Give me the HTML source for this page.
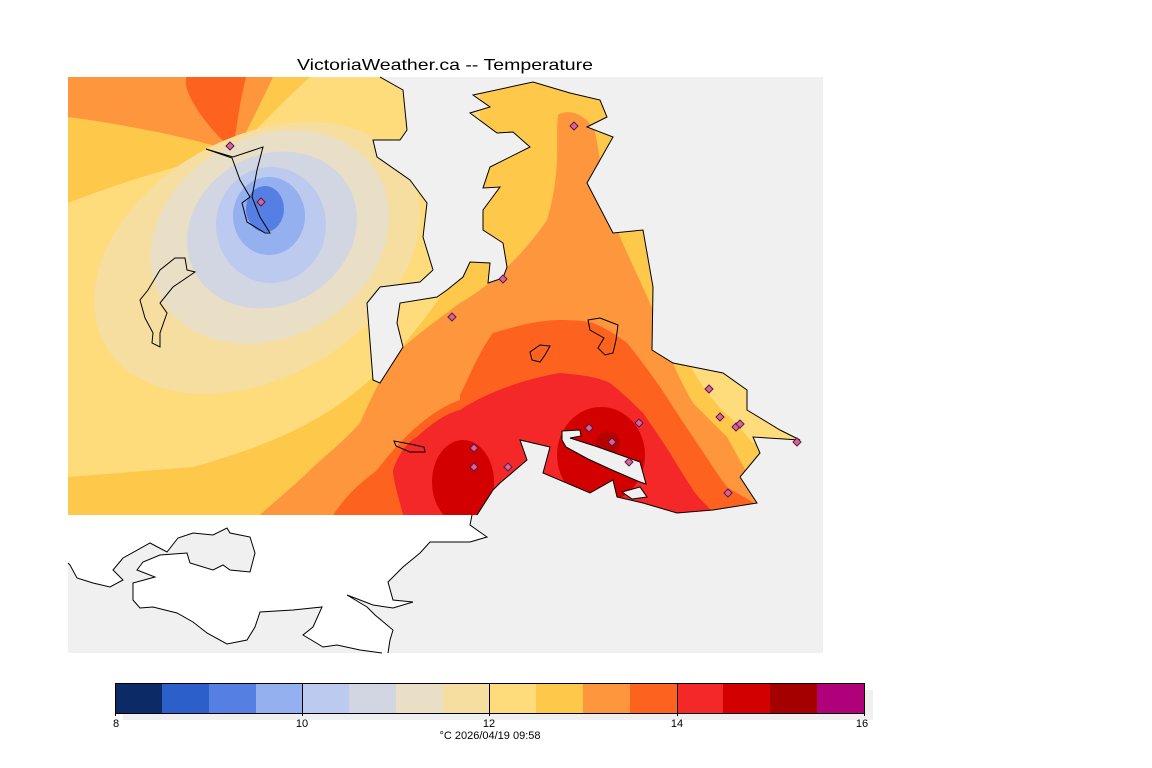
<!DOCTYPE html>
<html><head><meta charset="utf-8"><style>
html,body{margin:0;padding:0;background:#fff;}
svg{display:block;}
</style></head><body>
<svg width="1152" height="768" viewBox="0 0 1152 768" xmlns="http://www.w3.org/2000/svg">
<defs>
<clipPath id="land"><path d="M68,77 L380,77 L403,90 L407,130 L400,140 L373,140 L377,157 L410,180 L427,203 L423,237 L433,270 L420,282 L380,287 L367,303 L373,380 L380,383 L403,347 L397,323 L400,303 L437,297 L447,290 L463,277 L470,262 L490,263 L488,283 L503,278 L507,267 L503,243 L483,230 L483,210 L500,187 L483,188 L490,167 L530,147 L513,132 L497,133 L470,113 L490,107 L473,95 L533,82 L570,93 L600,100 L607,117 L587,127 L613,137 L587,183 L613,233 L643,230 L653,287 L652,350 L673,363 L723,373 L747,390 L747,410 L780,430 L800,440 L753,437 L760,453 L740,477 L757,503 L713,510 L677,513 L643,503 L617,497 L613,480 L590,493 L543,473 L550,447 L520,440 L527,460 L500,483 L493,490 L477,515 L68,515 Z"/></clipPath>
</defs>
<rect x="68" y="77" width="755" height="576" fill="#f0f0f0"/>
<g clip-path="url(#land)">
<rect x="68" y="77" width="755" height="438" fill="#fec84b"/>
<path d="M68,203 C140,175 200,160 235,152 C260,125 290,95 310,77 L480,77 L480,230 C450,290 410,340 380,370 C340,410 290,440 193,467 L68,477 Z" fill="#fedc7c"/>
<path d="M68,77 L273,77 C262,100 248,130 235,152 C200,140 130,125 68,117 Z" fill="#fe963e"/>
<path d="M186,77 L246,77 C240,100 237,125 233,150 C215,135 190,105 186,85 Z" fill="#fe621f"/>
<ellipse cx="257" cy="258" rx="175" ry="120" transform="rotate(-30 257 258)" fill="#f5de9f"/>
<ellipse cx="270" cy="237" rx="125" ry="100" transform="rotate(-30 270 237)" fill="#e9dfc6"/>
<ellipse cx="272" cy="230" rx="88" ry="75" transform="rotate(-30 272 230)" fill="#d1d6e2"/>
<ellipse cx="271" cy="225" rx="55" ry="58" fill="#bccaef"/>
<ellipse cx="269" cy="216" rx="36" ry="39" fill="#94b0ef"/>
<ellipse cx="265" cy="209" rx="19" ry="23" fill="#567fe3"/>
<path d="M558,115 C555,140 562,170 547,220 C530,245 500,280 460,303 C430,325 410,340 393,357 C380,380 370,400 360,423 C340,445 320,460 310,470 C290,490 270,505 260,515 L757,515 L757,490 C745,470 740,460 727,437 C710,420 700,410 693,403 C680,380 676,370 673,363 C660,330 655,320 653,310 C640,280 630,260 620,237 C610,200 605,180 600,160 C597,140 595,130 593,127 C580,110 565,110 558,115 Z" fill="#fe963e"/>
<path d="M690,365 C700,385 720,410 730,417 C745,433 750,440 753,443 L800,445 L780,360 Z" fill="#fedc7c"/>
<path d="M333,515 C350,490 365,480 377,470 C400,440 430,410 460,400 L460,395 C470,375 480,350 493,333 C520,325 540,320 560,320 C580,320 590,322 593,323 C610,330 620,338 627,343 C645,365 655,380 660,387 C675,410 685,425 693,437 C705,455 718,475 727,487 C740,495 750,500 757,505 L757,515 Z" fill="#fe621f"/>
<path d="M403,515 C398,495 393,480 393,470 C400,450 410,440 417,437 C435,420 450,412 460,410 C490,390 530,378 560,373 C585,375 600,378 610,383 C625,395 635,405 643,413 C655,430 665,445 670,453 C680,470 690,485 693,490 C700,500 710,508 713,513 L713,515 Z" fill="#f42828"/>
<ellipse cx="463" cy="482" rx="31" ry="42" fill="#d30000"/>
<ellipse cx="601" cy="455" rx="44" ry="48" fill="#d30000"/>
<circle cx="608" cy="443" r="12" fill="#a50000" opacity="0.6"/>
</g>
<path d="M562,431 L580,430 L581,436 L570,438 L598,447 L640,462 L646,484 L640,482 L612,470 L588,459 L566,447 L562,440 Z" fill="#f0f0f0" stroke="#000" stroke-width="1"/>
<path d="M622,492 L640,487 L647,497 L632,499 Z" fill="#f0f0f0" stroke="#000" stroke-width="1"/>
<path d="M380,77 L403,90 L407,130 L400,140 L373,140 L377,157 L410,180 L427,203 L423,237 L433,270 L420,282 L380,287 L367,303 L373,380 L380,383 L403,347 L397,323 L400,303 L437,297 L447,290 L463,277 L470,262 L490,263 L488,283 L503,278 L507,267 L503,243 L483,230 L483,210 L500,187 L483,188 L490,167 L530,147 L513,132 L497,133 L470,113 L490,107 L473,95 L533,82 L570,93 L600,100 L607,117 L587,127 L613,137 L587,183 L613,233 L643,230 L653,287 L652,350 L673,363 L723,373 L747,390 L747,410 L780,430 L800,440 L753,437 L760,453 L740,477 L757,503 L713,510 L677,513 L643,503 L617,497 L613,480 L590,493 L543,473 L550,447 L520,440 L527,460 L500,483 L493,490 L477,515" fill="none" stroke="#000" stroke-width="1"/>
<path d="M68,515 L472,515 L470,525 L487,537 L470,542 L430,542 L420,553 L403,567 L388,582 L393,600 L413,602 L393,608 L373,605 L347,595 L367,607 L375,615 L393,630 L390,640 L388,653 L382,653 L360,650 L337,645 L323,647 L303,635 L313,627 L322,607 L293,610 L260,612 L255,627 L247,640 L227,644 L207,633 L193,622 L177,613 L153,607 L140,608 L133,600 L133,583 L155,577 L137,570 L143,562 L160,555 L187,553 L190,563 L213,570 L223,565 L230,570 L250,572 L255,553 L250,537 L230,533 L227,528 L213,535 L193,533 L178,538 L167,552 L150,543 L123,558 L113,570 L123,580 L110,587 L93,583 L77,578 L70,565 L68,563 Z" fill="#fff"/>
<path d="M472,515 L470,525 L487,537 L470,542 L430,542 L420,553 L403,567 L388,582 L393,600 L413,602 L393,608 L373,605 L347,595 L367,607 L375,615 L393,630 L390,640 L388,653 M382,653 L360,650 L337,645 L323,647 L303,635 L313,627 L322,607 L293,610 L260,612 L255,627 L247,640 L227,644 L207,633 L193,622 L177,613 L153,607 L140,608 L133,600 L133,583 L155,577 L137,570 L143,562 L160,555 L187,553 L190,563 L213,570 L223,565 L230,570 L250,572 L255,553 L250,537 L230,533 L227,528 L213,535 L193,533 L178,538 L167,552 L150,543 L123,558 L113,570 L123,580 L110,587 L93,583 L77,578 L70,565 L68,563" fill="none" stroke="#000" stroke-width="1"/>
<path d="M206,149 L233,157 L263,147 L257,170 L252,197 L260,217 L270,233 L265,233 L247,222 L242,203 L250,197 L240,180 L232,158 Z" fill="none" stroke="#000"/>
<path d="M175,258 L185,258 L187,270 L195,272 L173,287 L160,303 L167,313 L160,333 L160,347 L152,343 L153,333 L145,318 L140,300 L148,290 L160,270 Z" fill="none" stroke="#000"/>
<path d="M394,441 L410,444 L424,447 L425,452 L410,452 L396,446 Z" fill="none" stroke="#000"/>
<path d="M540,345 L550,346 L545,355 L540,362 L532,360 L530,352 Z" fill="none" stroke="#000"/>
<path d="M588,320 L600,318 L618,325 L616,340 L613,353 L605,355 L598,348 L604,338 L590,330 Z" fill="none" stroke="#000"/>
<g fill="#e0609c" stroke="#502040" stroke-width="1">
<path d="M230,142 l4,4 l-4,4 l-4,-4 Z"/><path d="M261,198 l4,4 l-4,4 l-4,-4 Z"/>
<path d="M452,313 l4,4 l-4,4 l-4,-4 Z"/><path d="M503,275 l4,4 l-4,4 l-4,-4 Z"/>
<path d="M574,122 l4,4 l-4,4 l-4,-4 Z"/><path d="M474,444 l4,4 l-4,4 l-4,-4 Z"/>
<path d="M474,463 l4,4 l-4,4 l-4,-4 Z"/><path d="M508,463 l4,4 l-4,4 l-4,-4 Z"/>
<path d="M589,424 l4,4 l-4,4 l-4,-4 Z"/><path d="M612,438 l4,4 l-4,4 l-4,-4 Z"/>
<path d="M639,419 l4,4 l-4,4 l-4,-4 Z"/><path d="M629,458 l4,4 l-4,4 l-4,-4 Z"/>
<path d="M709,385 l4,4 l-4,4 l-4,-4 Z"/><path d="M720,413 l4,4 l-4,4 l-4,-4 Z"/>
<path d="M736,423 l4,4 l-4,4 l-4,-4 Z"/><path d="M740,420 l4,4 l-4,4 l-4,-4 Z"/>
<path d="M728,489 l4,4 l-4,4 l-4,-4 Z"/><path d="M797,438 l4,4 l-4,4 l-4,-4 Z"/>
</g>
<text x="297" y="70" font-family="Liberation Sans, sans-serif" font-size="16" textLength="296" lengthAdjust="spacingAndGlyphs" fill="#000">VictoriaWeather.ca -- Temperature</text>
<rect x="123" y="690" width="750" height="30" fill="#f0f0f0"/>
<g stroke="none">
<rect x="115" y="683" width="47" height="30" fill="#0c2a66"/>
<rect x="162" y="683" width="47" height="30" fill="#2d5fcb"/>
<rect x="209" y="683" width="47" height="30" fill="#567fe3"/>
<rect x="256" y="683" width="47" height="30" fill="#94b0ef"/>
<rect x="302" y="683" width="47" height="30" fill="#bccaef"/>
<rect x="349" y="683" width="47" height="30" fill="#d1d6e2"/>
<rect x="396" y="683" width="47" height="30" fill="#e9dfc6"/>
<rect x="443" y="683" width="47" height="30" fill="#f5de9f"/>
<rect x="489" y="683" width="47" height="30" fill="#fedc7c"/>
<rect x="536" y="683" width="47" height="30" fill="#fec84b"/>
<rect x="583" y="683" width="47" height="30" fill="#fe963e"/>
<rect x="630" y="683" width="47" height="30" fill="#fe621f"/>
<rect x="677" y="683" width="47" height="30" fill="#f42828"/>
<rect x="723" y="683" width="47" height="30" fill="#d30000"/>
<rect x="770" y="683" width="47" height="30" fill="#a50000"/>
<rect x="817" y="683" width="47" height="30" fill="#b0007a"/>
</g>
<rect x="115.5" y="683.5" width="749" height="30" fill="none" stroke="#000"/>
<g stroke="#000"><line x1="302.5" y1="683" x2="302.5" y2="716"/><line x1="489.5" y1="683" x2="489.5" y2="716"/><line x1="677.5" y1="683" x2="677.5" y2="716"/><line x1="115.5" y1="713" x2="115.5" y2="716"/><line x1="864.5" y1="713" x2="864.5" y2="716"/></g>
<g font-family="Liberation Sans, sans-serif" font-size="11" fill="#000" text-anchor="middle">
<text x="116" y="727">8</text><text x="302" y="727">10</text><text x="489" y="727">12</text><text x="677" y="727">14</text><text x="862" y="727">16</text>
<text x="490" y="739">°C  2026/04/19 09:58</text>
</g>
</svg>
</body></html>
